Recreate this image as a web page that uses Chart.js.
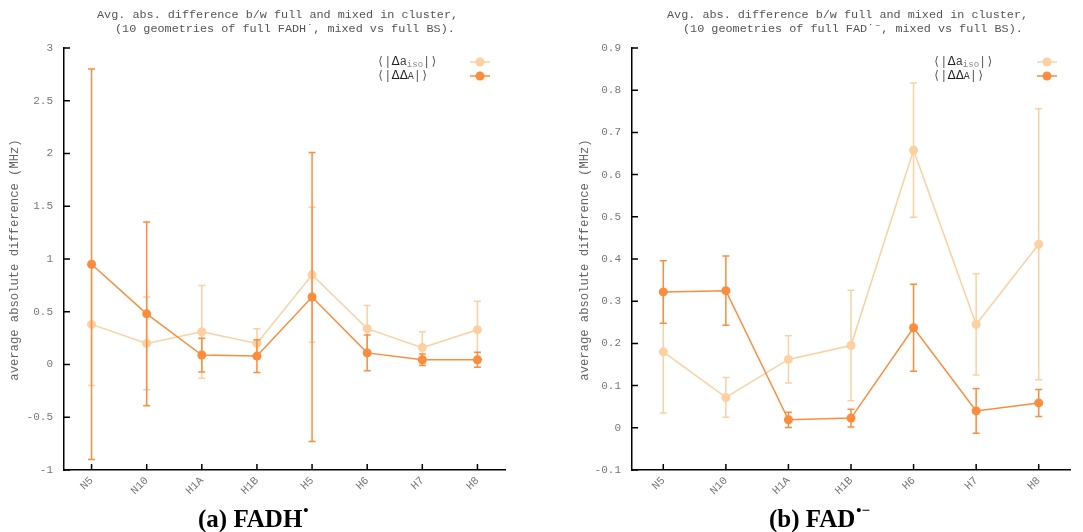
<!DOCTYPE html>
<html><head><meta charset="utf-8">
<script src="https://cdn.jsdelivr.net/npm/chart.js@4/dist/chart.umd.min.js"></script>
<style>
html,body{margin:0;padding:0;background:#fff;}
#wrap{position:relative;width:1083px;height:532px;overflow:hidden;background:#fff;}
canvas{position:absolute;top:0;}
</style></head><body>
<div id="wrap">
<canvas id="ca" width="540" height="532" style="left:0px"></canvas>
<canvas id="cb" width="543" height="532" style="left:540px"></canvas>
</div>
<script>
// ---- data: (a) FADH•
const categoriesA = ['N5','N10','H1A','H1B','H5','H6','H7','H8'];
const isoA        = [0.38, 0.20, 0.31, 0.20, 0.85, 0.34, 0.16, 0.33];
const isoErrA     = [0.58, 0.44, 0.44, 0.14, 0.64, 0.22, 0.15, 0.27];
const ddaA        = [0.95, 0.48, 0.09, 0.08, 0.64, 0.11, 0.045, 0.045];
const ddaErrA     = [1.85, 0.87, 0.16, 0.155, 1.37, 0.17, 0.055, 0.07];
// ---- data: (b) FAD•−
const categoriesB = ['N5','N10','H1A','H1B','H6','H7','H8'];
const isoB        = [0.18, 0.072, 0.162, 0.195, 0.658, 0.245, 0.435];
const isoErrB     = [0.145, 0.047, 0.056, 0.131, 0.159, 0.12, 0.321];
const ddaB        = [0.322, 0.325, 0.019, 0.023, 0.237, 0.04, 0.059];
const ddaErrB     = [0.074, 0.082, 0.018, 0.021, 0.103, 0.053, 0.032];
// ---- text
const titleLines = ['Avg. abs. difference b/w full and mixed in cluster,'];
const title2A = '(10 geometries of full FADH\u02D9, mixed vs full BS).';
const title2B = '(10 geometries of full FAD\u02D9\u207B, mixed vs full BS).';
const yTitle = 'average absolute difference (MHz)';

const LIGHT = '#fdd0a2', DARK = '#fd8d3c';
const MONO = "'Liberation Mono','DejaVu Sans Mono',monospace";

function makeChart(id, cats, iso, isoErr, dda, ddaErr, yMin, yMax, yStep, cfg) {
  const errs = [isoErr, ddaErr];
  const plugin = {
    id: 'custom_' + id,
    beforeDatasetDraw(chart, args) {
      const i = args.index, meta = args.meta, ds = chart.data.datasets[i];
      const ys = chart.scales.y, ctx = chart.ctx;
      ctx.save();
      ctx.strokeStyle = ds.borderColor; ctx.lineWidth = 1.5;
      meta.data.forEach((pt, j) => {
        const v = ds.data[j], e = errs[i][j];
        const y1 = ys.getPixelForValue(v + e), y2 = ys.getPixelForValue(v - e);
        ctx.beginPath();
        ctx.moveTo(pt.x, y1); ctx.lineTo(pt.x, y2);
        ctx.moveTo(pt.x - 3.5, y1); ctx.lineTo(pt.x + 3.5, y1);
        ctx.moveTo(pt.x - 3.5, y2); ctx.lineTo(pt.x + 3.5, y2);
        ctx.stroke();
      });
      ctx.restore();
    },
    afterDraw(chart) {
      const ctx = chart.ctx, a = chart.chartArea, xs = chart.scales.x, ys = chart.scales.y;
      ctx.save();
      // inward ticks
      ctx.strokeStyle = '#000'; ctx.lineWidth = 1.5;
      ctx.beginPath();
      ys.ticks.forEach((t, k) => { const y = ys.getPixelForTick(k); ctx.moveTo(a.left, y); ctx.lineTo(a.left + 6, y); });
      xs.ticks.forEach((t, k) => { const x = xs.getPixelForTick(k); ctx.moveTo(x, a.bottom); ctx.lineTo(x, a.bottom - 6); });
      ctx.stroke();
      // title
      ctx.fillStyle = '#555'; ctx.font = '11.8px ' + MONO; ctx.textBaseline = 'middle'; ctx.textAlign = 'left';
      ctx.fillText(titleLines[0], cfg.t1x, 15);
      ctx.fillText(cfg.title2, cfg.t2x, 29);
      // y title
      ctx.save();
      ctx.translate(cfg.ytx, (a.top + a.bottom) / 2 + 1);
      ctx.rotate(-Math.PI / 2);
      ctx.textAlign = 'center'; ctx.font = '12.2px ' + MONO; ctx.fillStyle = '#666';
      ctx.fillText(yTitle, 0, 0);
      ctx.restore();
      // legend
      const rows = [{c: LIGHT, y: 62, sub: true}, {c: DARK, y: 76, sub: false}];
      rows.forEach(r => {
        let x = cfg.lx;
        ctx.textAlign = 'left'; ctx.textBaseline = 'middle';
        const put = (s, font, col, dy) => { ctx.font = font; ctx.fillStyle = col; ctx.fillText(s, x, r.y + (dy || 0)); x += ctx.measureText(s).width; };
        put('\u27E8|', '12px ' + MONO, '#555');
        if (r.sub) {
          put('\u0394', '12px "DejaVu Sans"', '#222');
          put('a', '12px ' + MONO, '#444');
          put('iso', '9px ' + MONO, '#888', 3);
        } else {
          put('\u0394\u0394', '12px "DejaVu Sans"', '#222');
          put('A', '10px ' + MONO, '#444');
        }
        put('|\u27E9', '12px ' + MONO, '#555');
        ctx.strokeStyle = r.c; ctx.lineWidth = 1.5;
        ctx.beginPath(); ctx.moveTo(cfg.lsx, r.y); ctx.lineTo(cfg.lsx + 20, r.y); ctx.stroke();
        ctx.fillStyle = r.c; ctx.beginPath(); ctx.arc(cfg.lsx + 10, r.y, 4.5, 0, Math.PI * 2); ctx.fill();
      });
      // caption
      ctx.fillStyle = '#000'; ctx.textBaseline = 'alphabetic'; ctx.textAlign = 'left';
      ctx.font = 'bold 25px "Liberation Serif","DejaVu Serif",serif';
      ctx.fillText(cfg.cap, cfg.cx, 527);
      const w = ctx.measureText(cfg.cap).width;
      ctx.font = 'bold 15px "Liberation Serif","DejaVu Serif",serif';
      ctx.fillText(cfg.capSup, cfg.cx + w + 1, 515);
      ctx.restore();
    }
  };
  return new Chart(document.getElementById(id), {
    type: 'line',
    data: {
      labels: cats,
      datasets: [
        {label: 'iso', data: iso, borderColor: LIGHT, backgroundColor: LIGHT, pointBackgroundColor: LIGHT,
         borderWidth: 1.5, pointRadius: 4.5, pointBorderWidth: 0, pointHoverRadius: 4.5, tension: 0, order: 2},
        {label: 'dda', data: dda, borderColor: DARK, backgroundColor: DARK, pointBackgroundColor: DARK,
         borderWidth: 1.5, pointRadius: 4.5, pointBorderWidth: 0, pointHoverRadius: 4.5, tension: 0, order: 1}
      ]
    },
    options: {
      responsive: false, animation: false, devicePixelRatio: 1,
      layout: {padding: {top: 48, left: 0, right: cfg.padR, bottom: 0}},
      plugins: {legend: {display: false}, tooltip: {enabled: false}, title: {display: false}},
      scales: {
        x: {
          type: 'category', offset: true,
          grid: {display: false, drawTicks: false},
          border: {display: true, color: '#000', width: 1.5},
          ticks: {autoSkip: false, minRotation: 45, maxRotation: 45, padding: 4, color: '#777', font: {family: MONO, size: 11}},
          afterFit(s) { s.height = 62; }
        },
        y: {
          min: yMin, max: yMax,
          grid: {display: false, drawTicks: false},
          border: {display: true, color: '#000', width: 1.5},
          ticks: {stepSize: yStep, padding: 11, color: '#777', font: {family: MONO, size: 11},
                  callback: v => String(Number(Number(v).toFixed(2)))},
          afterFit(s) { s.width = cfg.yw; }
        }
      }
    },
    plugins: [plugin]
  });
}

makeChart('ca', categoriesA, isoA, isoErrA, ddaA, ddaErrA, -1, 3, 0.5,
  {padR: 35, yw: 64, t1x: 97, t2x: 115, title2: title2A, ytx: 15, lx: 377, lsx: 470, cap: '(a) FADH', capSup: '\u2022', cx: 198});
makeChart('cb', categoriesB, isoB, isoErrB, ddaB, ddaErrB, -0.1, 0.9, 0.1,
  {padR: 13, yw: 92, t1x: 127, t2x: 143, title2: title2B, ytx: 45, lx: 393, lsx: 497, cap: '(b) FAD', capSup: '\u2022\u2212', cx: 229});
</script>
</body></html>
